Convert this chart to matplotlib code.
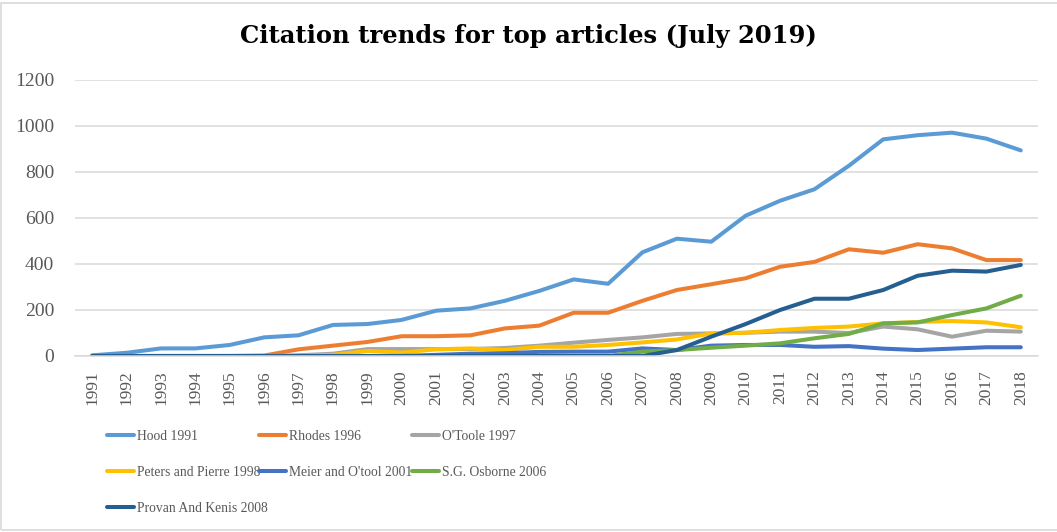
import matplotlib.pyplot as plt
from matplotlib.patches import Rectangle

years = list(range(1991, 2019))

hood = [3, 14, 33, 33, 48, 81, 90, 135, 139, 157, 197, 207, 240, 283,
        333, 314, 451, 510, 497, 610, 675, 725, 827, 942, 960, 971, 945, 894]
rhodes = [0, 0, 0, 0, 0, 2, 29, 45, 61, 86, 86, 90, 120, 132,
          188, 188, 240, 287, 312, 338, 388, 409, 464, 449, 486, 468, 417, 417]
otoole = [0, 0, 0, 0, 0, 0, 3, 10, 30, 30, 30, 30, 35, 45,
          58, 70, 81, 96, 98, 101, 106, 106, 100, 128, 116, 84, 110, 106]
peters = [0, 0, 0, 0, 0, 0, 0, 5, 22, 15, 29, 33, 26, 40,
          40, 48, 59, 72, 98, 101, 113, 122, 128, 142, 148, 152, 146, 125]
meier = [0, 0, 0, 0, 0, 0, 0, 0, 0, 0, 5, 10, 12, 18,
         19, 19, 33, 26, 45, 48, 48, 40, 43, 32, 26, 32, 38, 38]
osborne = [0, 0, 0, 0, 0, 0, 0, 0, 0, 0, 0, 0, 0, 0,
           0, 0, 19, 26, 36, 45, 55, 77, 96, 142, 146, 178, 207, 262]
provan = [0, 0, 0, 0, 0, 0, 0, 0, 0, 0, 0, 0, 0, 0,
          0, 0, 0, 26, 84, 139, 200, 249, 249, 287, 349, 371, 367, 396]

series = [
    ("Hood 1991", hood, "#5B9BD5"),
    ("Rhodes 1996", rhodes, "#ED7D31"),
    ("O'Toole 1997", otoole, "#A5A5A5"),
    ("Peters and Pierre 1998", peters, "#FFC000"),
    ("Meier and O'tool 2001", meier, "#4472C4"),
    ("S.G. Osborne 2006", osborne, "#70AD47"),
    ("Provan And Kenis 2008", provan, "#255E91"),
]

plt.rcParams['font.family'] = ['Liberation Serif', 'DejaVu Serif']

fig = plt.figure(figsize=(10.57, 5.32), dpi=100)
fig.patches.append(Rectangle((0.001, 0.004), 1.2, 0.99, transform=fig.transFigure,
                             fill=False, edgecolor="#D9D9D9", lw=1.2))

ax = fig.add_axes([75 / 1057, 1 - 356 / 532, 963 / 1057, 276 / 532])

x = list(range(len(years)))
handles = []
for name, vals, col in series:
    ln, = ax.plot(x, vals, color=col, lw=2.9, solid_capstyle="round",
                  solid_joinstyle="round", label=name)
    handles.append(ln)

ax.set_xlim(-0.5, len(years) - 0.5)
ax.set_ylim(0, 1200)
ax.set_yticks(range(0, 1201, 200))
ax.set_xticks(x)
ax.set_xticklabels([str(y) for y in years], rotation=90)
ax.tick_params(axis="both", length=0, labelcolor="#595959")
ax.tick_params(axis="y", pad=15, labelsize=14)
ax.tick_params(axis="x", pad=10, labelsize=12.5)
ax.grid(axis="y", color="#D9D9D9", lw=1.1)
ax.set_axisbelow(True)
for s in ["top", "right", "left"]:
    ax.spines[s].set_visible(False)
ax.spines["bottom"].set_color("#D9D9D9")
ax.spines["bottom"].set_linewidth(1.1)

fig.text(0.5, 1 - 43 / 532, "Citation trends for top articles (July 2019)",
         ha="center", va="baseline", fontsize=17.5, fontweight="bold",
         color="black", family="DejaVu Serif")

# legend: three columns placed like Excel
cols = [[0, 3, 6], [1, 4], [2, 5]]
xs = [107, 259, 412]
for c, xp in zip(cols, xs):
    leg = fig.legend([handles[i] for i in c], [series[i][0] for i in c],
                     loc="upper left", bbox_to_anchor=(xp / 1057, 1 - 430 / 532),
                     frameon=False, fontsize=9.8, handlelength=1.95, handletextpad=0.25,
                     labelspacing=1.68, borderpad=0, borderaxespad=0)
    for t in leg.get_texts():
        t.set_color("#595959")

fig.savefig("out.png", dpi=100)
